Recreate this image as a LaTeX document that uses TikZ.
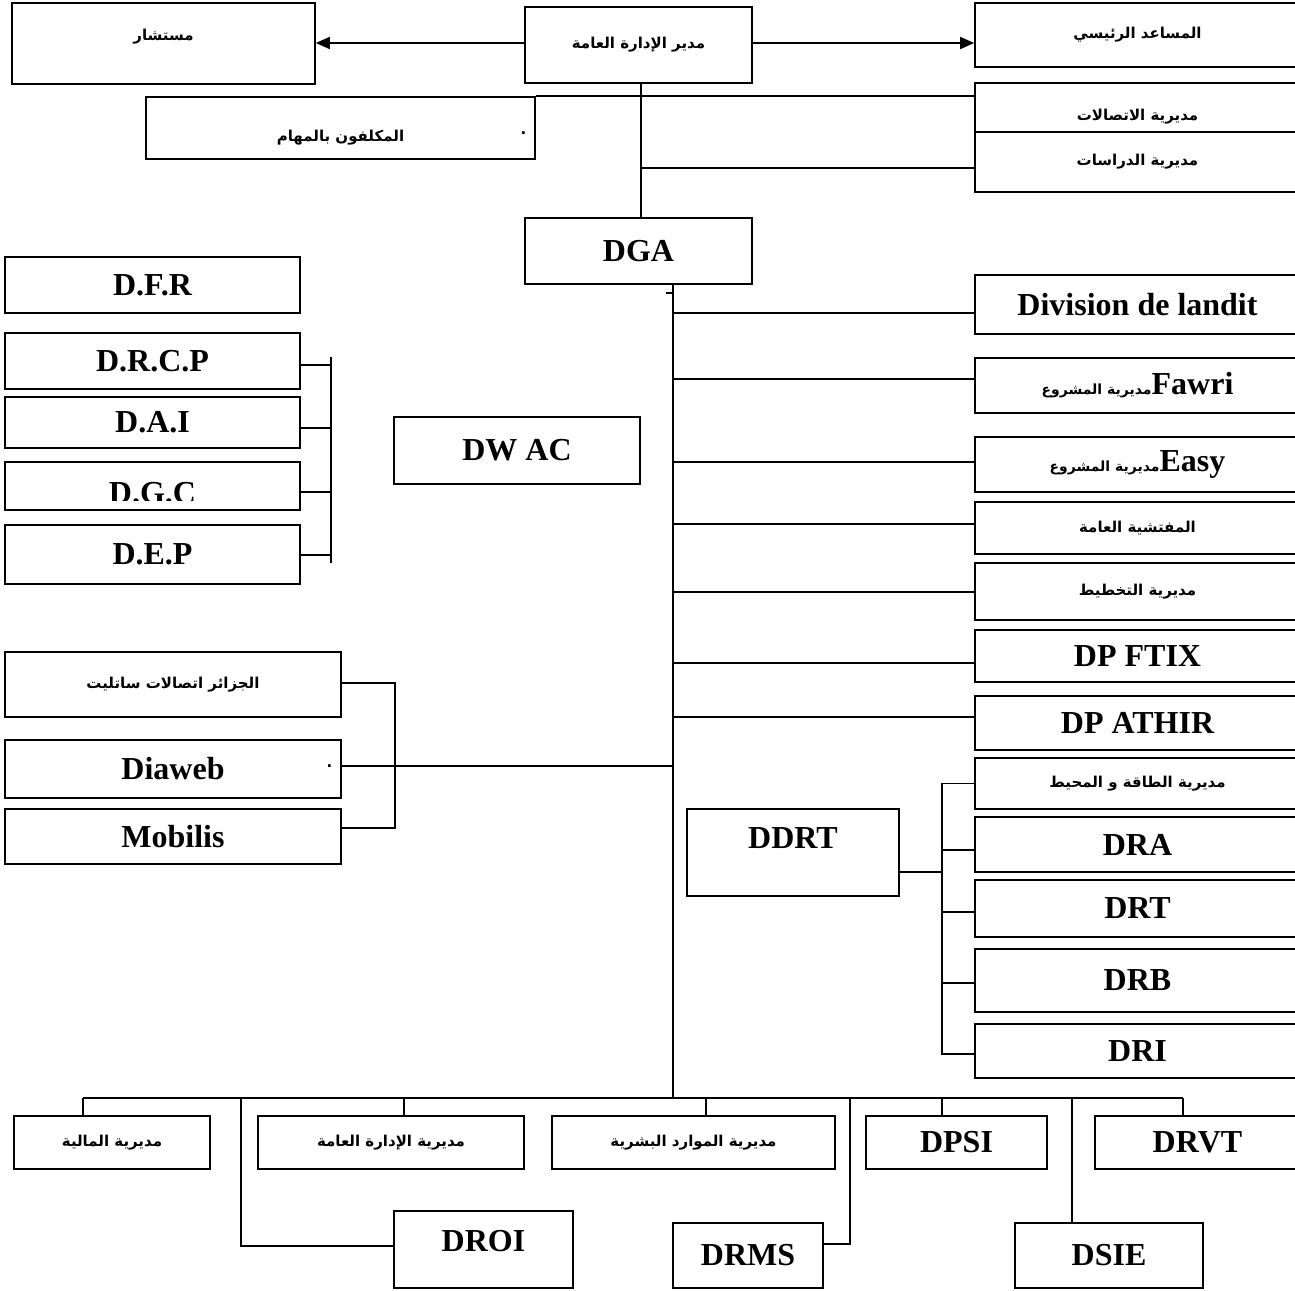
\documentclass[tikz,border=0pt]{standalone}
\usepackage{fontspec}
\setmainfont{Liberation Serif}
\newfontfamily\arabicfont[Script=Arabic]{DejaVu Sans}
\TeXXeTstate=1
\usetikzlibrary{arrows.meta}

\tikzset{
  unit/.style={draw, line width=1.6pt, inner sep=0pt, font=\bfseries\fontsize{32}{34}\selectfont},
  wh/.style 2 args={minimum width=#1pt, minimum height=#2pt},
  ar/.style={font=\arabicfont\bfseries\fontsize{15}{18}\selectfont},
  link/.style={line width=1.6pt},
}

\begin{document}
\begin{tikzpicture}[x=1pt, y=-1pt]
  \useasboundingbox (0,0) rectangle (1295,1290);
  % Top
  \node[unit, ar, wh={303}{81}, label={[ar, anchor=center, yshift=7pt]center:{\beginR مستشار\endR}}] (mustashar) at (163.5,43.5) {};
  \node[unit, ar, wh={227}{76}] (mudir) at (638.5,45) {\beginR مدير الإدارة العامة\endR};
  \node[unit, ar, wh={325}{64}] (musaid) at (1137.5,35) {\beginR المساعد الرئيسي\endR};
  \node[unit, ar, wh={389}{62}, label={[ar, anchor=center, yshift=-10pt]center:{\beginR المكلفون بالمهام\endR}}, label={[ar, anchor=east, xshift=-6pt, yshift=-5pt]east:.}] (mukallaf) at (340.5,128) {};
  \node[unit, ar, wh={325}{49}, label={[ar, anchor=center, yshift=-9pt]center:{\beginR مديرية الاتصالات\endR}}] (itisalat) at (1137.5,107.5) {};
  \node[unit, ar, wh={325}{60}] (dirasat) at (1137.5,162) {\beginR مديرية الدراسات\endR};
  \draw[link, -{Triangle[length=14pt, width=12pt]}] ([yshift=2pt]mudir.west) -- ([yshift=0.5pt]mustashar.east);
  \draw[link, -{Triangle[length=14pt, width=12pt]}] ([yshift=2pt]mudir.east) -- ([yshift=-8pt]musaid.west);

  \node[unit, wh={227}{66}] (dga) at (638.5,251) {DGA};
  \coordinate (stem) at ([xshift=2.5pt]mudir.south);
  \draw[link] (stem) -- (stem |- dga.north);
  \draw[link] (mukallaf.north east) -- (mukallaf.north east -| itisalat.west);
  \path ([yshift=-6pt]dirasat.west) coordinate (p);
  \draw[link] (p) -- (p -| stem);

  % Left column
  \node[unit, wh={295}{56}] (dfr) at (152.5,285) {D.F.R};
  \node[unit, wh={295}{56}] (drcp) at (152.5,361) {D.R.C.P};
  \node[unit, wh={295}{51}] (dai) at (152.5,422.5) {D.A.I};
  \node[unit, wh={295}{48}] (dgc) at (152.5,486) {};
  \begin{scope}
    \clip (0,455) rectangle (340,500);
    \node[font=\bfseries\fontsize{32}{34}\selectfont, anchor=base, inner sep=0pt] at (152.5,503) {D.G.C};
  \end{scope}
  \node[unit, wh={295}{59}] (dep) at (152.5,554.5) {D.E.P};
  \foreach \n/\d in {drcp/-4pt, dai/-5.5pt, dgc/-6pt, dep/-0.5pt}
    \draw[link] ([yshift=\d]\n.east) -- ++(30,0);
  \draw[link] ([xshift=30pt, yshift=4pt]drcp.east) -- ([xshift=30pt, yshift=-8.5pt]dep.east);
  \node[unit, wh={246}{67}] (dwac) at (517,450.5) {DW AC};

  \node[unit, ar, wh={336}{65}] (satellite) at (173,684.5) {\beginR الجزائر اتصالات ساتليت\endR};
  \node[unit, wh={336}{58}, label={[ar, anchor=east, xshift=-6pt, yshift=3pt]east:.}] (diaweb) at (173,769) {Diaweb};
  \node[unit, wh={336}{55}] (mobilis) at (173,836.5) {Mobilis};
  \draw[link] ([yshift=1.5pt]satellite.east) -- ++(53,0) |- ([yshift=8.5pt]mobilis.east);

  % Trunk
  \coordinate (trunk) at (673,284);
  \coordinate (busL) at (83,1098);
  \coordinate (busR) at (1183,1098);
  \draw[link] (trunk) -- (trunk |- busL);
  \draw[link] ([yshift=-9pt]trunk) -- ++(-7,0);
  \path ([yshift=3pt]diaweb.east) coordinate (p);
  \draw[link] (p) -- (p -| trunk);

  % Right column
  \node[unit, wh={325}{59}] (division) at (1137.5,304.5) {Division de landit};
  \node[unit, wh={325}{55}] (fawri) at (1137.5,385.5) {{\arabicfont\fontsize{14}{16}\selectfont\beginR مديرية المشروع\endR}Fawri};
  \node[unit, wh={325}{55}] (easy) at (1137.5,464.5) {{\arabicfont\fontsize{14}{16}\selectfont\beginR مديرية المشروع\endR}Easy};
  \node[unit, ar, wh={325}{52}] (mufatish) at (1137.5,528) {\beginR المفتشية العامة\endR};
  \node[unit, ar, wh={325}{57}] (takhtit) at (1137.5,591.5) {\beginR مديرية التخطيط\endR};
  \node[unit, wh={325}{52}] (dpftix) at (1137.5,656) {DP FTIX};
  \node[unit, wh={325}{54}] (dpathir) at (1137.5,723) {DP ATHIR};
  \foreach \n/\d in {division/-8.5pt, fawri/6.5pt, easy/2.5pt, mufatish/4pt, takhtit/-0.5pt, dpftix/-7pt, dpathir/6pt} {
    \path ([yshift=\d]\n.west) coordinate (p);
    \draw[link] (p) -- (p -| trunk);
  }

  % DDRT
  \node[unit, ar, wh={325}{51}] (taqa) at (1137.5,783.5) {\beginR مديرية الطاقة و المحيط\endR};
  \node[unit, wh={325}{55}] (dra) at (1137.5,844.5) {DRA};
  \node[unit, wh={325}{57}] (drt) at (1137.5,908.5) {DRT};
  \node[unit, wh={325}{63}] (drb) at (1137.5,980.5) {DRB};
  \node[unit, wh={325}{54}] (dri) at (1137.5,1051) {DRI};
  \node[unit, wh={212}{87}, label={[font=\bfseries\fontsize{32}{34}\selectfont, anchor=center, yshift=14.5pt]center:DDRT}] (ddrt) at (793,852.5) {};
  \draw[link] (taqa.west) -- ++(-32,0) |- ([yshift=-3pt]dri.west);
  \foreach \n/\d in {dra/-5.5pt, drt/-3.5pt, drb/-2.5pt}
    \draw[link] ([yshift=\d]\n.west) -- ++(-32,0);
  \draw[link] ([yshift=-19.5pt]ddrt.east) -- ++(43,0);

  % Bottom row
  \draw[link] (busL) -- (busR);
  \node[unit, ar, wh={196}{53}] (maliya) at (112,1142.5) {\beginR مديرية المالية\endR};
  \node[unit, ar, wh={266}{53}] (idara) at (391,1142.5) {\beginR مديرية الإدارة العامة\endR};
  \node[unit, ar, wh={283}{53}] (mawarid) at (693.5,1142.5) {\beginR مديرية الموارد البشرية\endR};
  \node[unit, wh={181}{53}] (dpsi) at (956.5,1142.5) {DPSI};
  \node[unit, wh={205}{53}] (drvt) at (1197.5,1142.5) {DRVT};
  \foreach \n/\d in {maliya/-29pt, idara/13pt, mawarid/12.5pt, dpsi/-14.5pt, drvt/-14.5pt} {
    \path ([xshift=\d]\n.north) coordinate (p);
    \draw[link] (p) -- (p |- busL);
  }
  \node[unit, wh={179}{77}, label={[font=\bfseries\fontsize{32}{34}\selectfont, anchor=center, yshift=8pt]center:DROI}] (droi) at (483.5,1249.5) {};
  \node[unit, wh={150}{65}] (drms) at (748,1255.5) {DRMS};
  \node[unit, wh={188}{65}] (dsie) at (1109,1255.5) {DSIE};
  \draw[link] ([yshift=3.5pt]droi.west) -| ([xshift=158pt]busL);
  \draw[link] ([yshift=11.5pt]drms.east) -| ([xshift=767pt]busL);
  \path ([xshift=-37pt]dsie.north) coordinate (p);
  \draw[link] (p) -- (p |- busL);
\end{tikzpicture}
\end{document}
